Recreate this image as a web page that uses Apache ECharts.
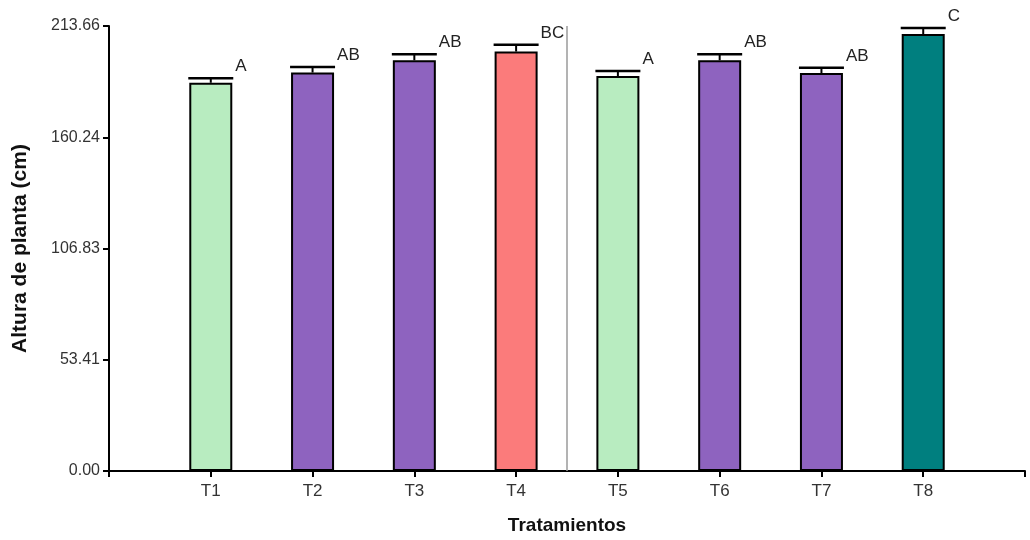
<!DOCTYPE html>
<html>
<head>
<meta charset="utf-8">
<title>Altura de planta por tratamiento</title>
<script src="https://cdn.jsdelivr.net/npm/echarts@6/dist/echarts.min.js"></script>
<style>
  html, body { margin: 0; padding: 0; background: #fff; }
  #chart { width: 1030px; height: 540px; }
</style>
</head>
<body>
<div id="chart"></div>
<script>
// Treatments, mean plant height (cm), standard error and Tukey letters
const categories = ['T1', 'T2', 'T3', 'T4', 'T5', 'T6', 'T7', 'T8'];
const means = [186.4, 191.3, 197.2, 201.4, 189.6, 197.2, 191.1, 209.8];
const errors = [2.2, 2.7, 2.9, 3.2, 2.4, 2.9, 2.5, 2.9];
const letters = ['A', 'AB', 'AB', 'BC', 'A', 'AB', 'AB', 'C'];
const barColors = ['#b8ecc0', '#8e63bf', '#8e63bf', '#fb7b7b', '#b8ecc0', '#8e63bf', '#8e63bf', '#007f7f'];
const yTickLabels = ['0.00', '53.41', '106.83', '160.24', '213.66'];
const yMax = 213.66;

const FONT = "'Liberation Sans', Arial, sans-serif";
const BAR_W = 43;

const chart = echarts.init(document.getElementById('chart'));

const barData = means.map((v, i) => ({
  value: [i + 1, v],
  itemStyle: { color: barColors[i] }
}));
const errData = means.map((v, i) => [i + 1, v, errors[i]]);

chart.setOption({
  animation: false,
  grid: { left: 109, right: 5, top: 26, bottom: 67 },
  xAxis: {
    type: 'value',
    min: 0,
    max: categories.length + 1,
    interval: 1,
    name: 'Tratamientos',
    nameLocation: 'middle',
    nameGap: 45,
    nameTextStyle: { fontFamily: FONT, fontSize: 19, fontWeight: 'bold', color: '#111' },
    axisLine: { show: true, onZero: false, lineStyle: { color: '#000', width: 2 } },
    axisTick: { show: true, length: 6, lineStyle: { color: '#000', width: 2 } },
    axisLabel: {
      fontFamily: FONT, fontSize: 17, color: '#333', margin: 12,
      formatter: v => (v >= 1 && v <= categories.length) ? categories[v - 1] : ''
    },
    splitLine: { show: false }
  },
  yAxis: {
    type: 'value',
    min: 0,
    max: yMax,
    interval: yMax / 4,
    name: 'Altura de planta (cm)',
    nameLocation: 'middle',
    nameGap: 78,
    nameTextStyle: { fontFamily: FONT, fontSize: 21, fontWeight: 'bold', color: '#111' },
    axisLine: { show: true, lineStyle: { color: '#000', width: 2 } },
    axisTick: { show: true, length: 6, lineStyle: { color: '#000', width: 2 } },
    axisLabel: {
      fontFamily: FONT, fontSize: 16, color: '#333', margin: 9,
      formatter: (v, i) => yTickLabels[i] !== undefined ? yTickLabels[i] : ''
    },
    splitLine: { show: false }
  },
  series: [
    {
      type: 'bar',
      barWidth: BAR_W,
      data: barData,
      itemStyle: { borderColor: '#000', borderWidth: 2 },
      z: 2,
      markLine: {
        silent: true,
        symbol: 'none',
        label: { show: false },
        lineStyle: { color: '#9a9a9a', width: 1.5, type: 'solid' },
        data: [{ xAxis: 4.5 }]
      }
    },
    {
      // upper whisker, cap and significance letter for each bar
      type: 'custom',
      clip: false,
      z: 3,
      data: errData,
      renderItem: (params, api) => {
        const x = api.value(0), v = api.value(1), e = api.value(2);
        const base = api.coord([x, v]);
        const top = api.coord([x, v + e]);
        const half = BAR_W / 2 + 1;
        return {
          type: 'group',
          children: [
            {
              type: 'line',
              shape: { x1: base[0], y1: base[1], x2: top[0], y2: top[1] },
              style: { stroke: '#000', lineWidth: 2 }
            },
            {
              type: 'line',
              shape: { x1: top[0] - half, y1: top[1], x2: top[0] + half, y2: top[1] },
              style: { stroke: '#000', lineWidth: 2.5 }
            },
            {
              type: 'text',
              x: top[0] + half + 2,
              y: top[1] - 3,
              style: {
                text: letters[params.dataIndex],
                fontFamily: FONT,
                fontSize: 17,
                fill: '#222',
                align: 'left',
                verticalAlign: 'bottom'
              }
            }
          ]
        };
      }
    }
  ]
});
</script>
</body>
</html>
